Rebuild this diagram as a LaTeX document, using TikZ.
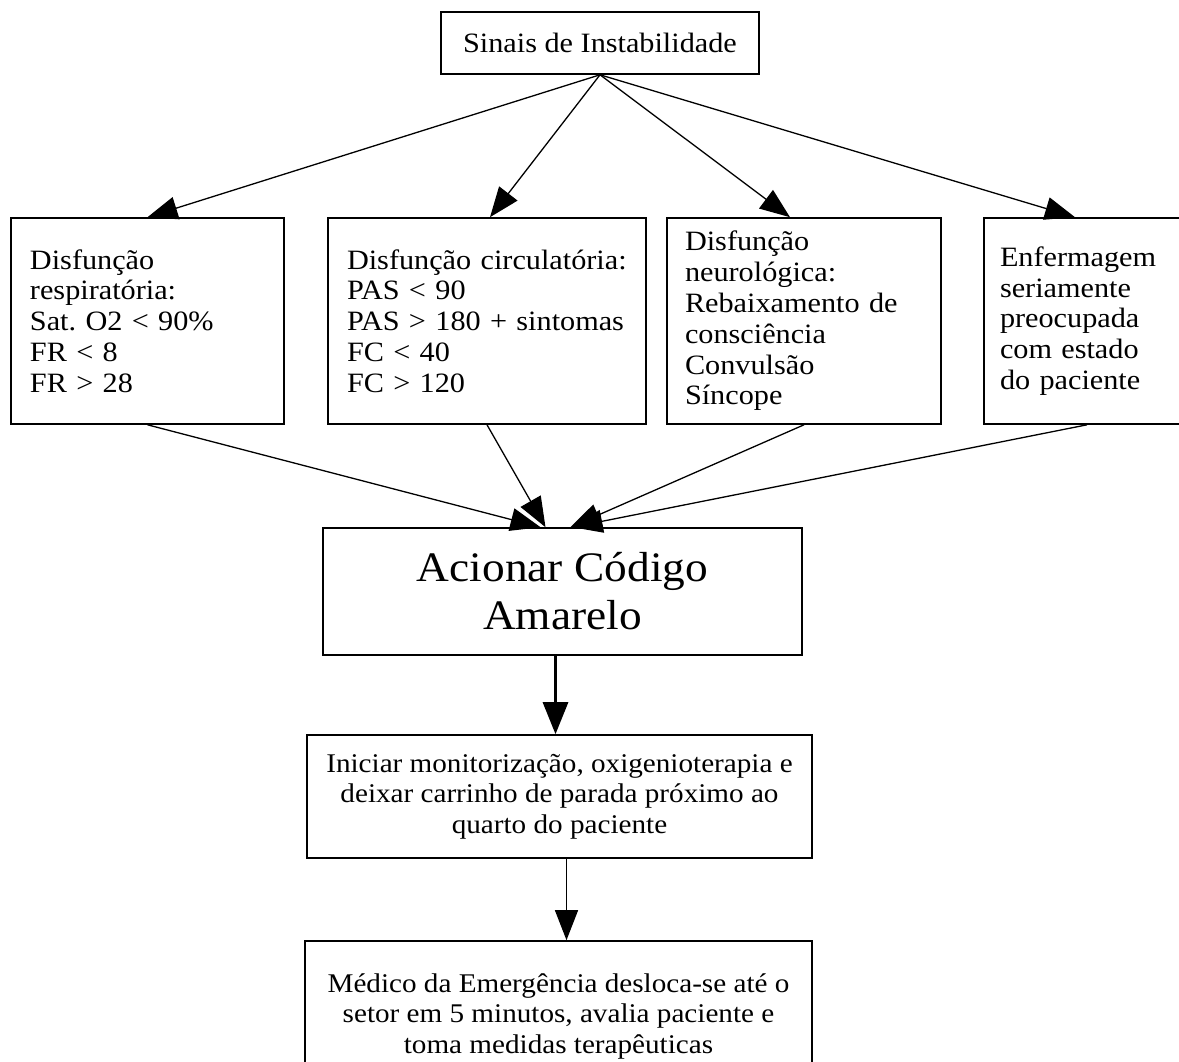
\documentclass[tikz,border=0pt]{standalone}
\usepackage{fontspec}
\setmainfont{Liberation Serif}[FakeStretch=1.08]
\usetikzlibrary{arrows.meta}
\begin{document}
\frenchspacing
\begin{tikzpicture}[x=1pt,y=-1pt,
  box/.style={draw, line width=1.6pt, rectangle, inner sep=0pt},
  lbox/.style={box, align=left, font=\fontsize{28}{30.8}\selectfont},
  cbox/.style={box, align=center, font=\fontsize{28}{30}\selectfont},
  lowbox/.style={box, align=center, font=\fontsize{27}{30.5}\selectfont},
  conn/.style={line width=1.3pt, -{Triangle[length=30pt,width=23pt]}},
  thickconn/.style={line width=3pt, -{Triangle[length=32pt,width=25pt]}}]
\useasboundingbox (0,0) rectangle (1179,1062);

\node[cbox, minimum width=318pt, minimum height=62pt] (top) at (600,43) {Sinais de Instabilidade};

\node[lbox, minimum width=273pt, minimum height=206pt, text width=235pt] (b1) at (147.5,321)
  {Disfunção\\respiratória:\\Sat. O2 < 90\%\\FR < 8\\FR > 28};
\node[lbox, minimum width=318pt, minimum height=206pt, text width=280pt] (b2) at (487,321)
  {Disfunção circulatória:\\PAS < 90\\PAS > 180 + sintomas\\FC < 40\\FC > 120};
\node[lbox, minimum width=274pt, minimum height=206pt, text width=238pt] (b3) at (804,321)
  {Disfunção\\neurológica:\\Rebaixamento de\\consciência\\Convulsão\\Síncope};
\node[lbox, minimum width=206pt, minimum height=206pt, text width=174pt] (b4) at (1087,321)
  {Enfermagem\\seriamente\\preocupada\\com estado\\do paciente};

\node[box, align=center, font=\fontsize{42}{48}\selectfont, minimum width=479pt, minimum height=127pt] (ac) at (562.5,591.5)
  {Acionar Código\\Amarelo};

\node[lowbox, minimum width=505pt, minimum height=123pt] (ini) at (559.5,796.5)
  {Iniciar monitorização, oxigenioterapia e\\deixar carrinho de parada próximo ao\\quarto do paciente};

\node[lowbox, minimum width=507pt, minimum height=150pt] (med) at (558.5,1016)
  {Médico da Emergência desloca-se até o\\setor em 5 minutos, avalia paciente e\\toma medidas terapêuticas};

\draw[conn] (top.south) -- (b1.north);
\draw[conn] (top.south) -- ([xshift=3pt]b2.north);
\draw[conn] (top.south) -- ([xshift=-14pt]b3.north);
\draw[conn] (top.south) -- ([xshift=-12pt]b4.north);

\draw[conn] (b1.south) -- ([xshift=-22pt]ac.north);
\draw[conn] (b2.south) -- ([xshift=-17pt]ac.north);
\draw[conn] (b3.south) -- ([xshift=8pt]ac.north);
\draw[conn] (b4.south) -- ([xshift=10pt]ac.north);

\draw[thickconn] ([xshift=-7pt]ac.south) -- ([xshift=-7pt]ac.south |- ini.north);
\draw[conn] ([xshift=7pt]ini.south) -- ([xshift=7pt]ini.south |- med.north);
\end{tikzpicture}
\end{document}
